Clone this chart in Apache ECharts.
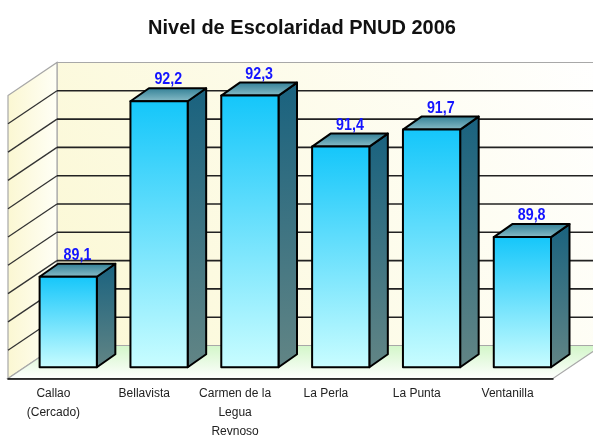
<!DOCTYPE html>
<html>
<head>
<meta charset="utf-8">
<script src="https://cdn.jsdelivr.net/npm/echarts@6/dist/echarts.min.js"></script>
<style>
  html, body { margin: 0; padding: 0; background: #fff; }
  #chart { width: 593px; height: 435px; }
</style>
</head>
<body>
<div id="chart"></div>
<script>
// data
const districts = ["Callao\n(Cercado)", "Bellavista", "Carmen de la\nLegua\nReynoso", "La Perla", "La Punta", "Ventanilla"];
const schoolingLevel = [89.1, 92.2, 92.3, 91.4, 91.7, 89.8];
const axisMin = 87.5;
const axisMax = 92.5;
const axisStep = 0.5;

// fake 3d: front plane -> back wall offset, in px
const DEPTH = [49, -33];

function formatValue(v) {
  return v.toFixed(1).replace(".", ",");
}

function grad(x, y, x2, y2, c0, c1) {
  return new echarts.graphic.LinearGradient(x, y, x2, y2, [
    { offset: 0, color: c0 },
    { offset: 1, color: c1 },
  ]);
}

function renderFrame(params, api) {
  const cs = params.coordSys;
  const L = cs.x;
  const R = cs.x + cs.width;
  const T = cs.y;
  const B = cs.y + cs.height;
  const dx = DEPTH[0];
  const dy = DEPTH[1];
  const children = [];

  children.push({
    type: "polygon",
    shape: { points: [[L + dx, T + dy], [R + dx, T + dy], [R + dx, B + dy], [L + dx, B + dy]] },
    style: { fill: grad(0, 1, 1, 0, "#fbf8d4", "#ffffff"), stroke: "#a8a8a8", lineWidth: 1.2 },
  });
  children.push({
    type: "polygon",
    shape: { points: [[L, T], [L + dx, T + dy], [L + dx, B + dy], [L, B]] },
    style: { fill: grad(0, 0, 1, 0, "#fbf7d2", "#fffff6"), stroke: "#a8a8a8", lineWidth: 1.2 },
  });
  children.push({
    type: "polygon",
    shape: { points: [[L, B], [R, B], [R + dx, B + dy], [L + dx, B + dy]] },
    style: { fill: grad(0, 0, 0, 1, "#d2f6c8", "#ffffff"), stroke: "#a8a8a8", lineWidth: 1.2 },
  });

  for (let v = axisMin + axisStep; v < axisMax - 1e-6; v += axisStep) {
    const y = api.coord([0, v])[1];
    children.push({
      type: "line",
      shape: { x1: L + dx, y1: y + dy, x2: R + dx, y2: y + dy },
      style: { stroke: "#222", lineWidth: 1.6 },
    });
    children.push({
      type: "line",
      shape: { x1: L, y1: y, x2: L + dx, y2: y + dy },
      style: { stroke: "#333", lineWidth: 1.3 },
    });
  }

  return { type: "group", children: children };
}

function renderBar(params, api) {
  const idx = api.value(0);
  const val = api.value(1);
  const top = api.coord([idx, val]);
  const base = api.coord([idx, axisMin]);
  const band = api.size([1, 0])[0];

  const w = band * 0.63;
  const cx = top[0] + band * 0.163;
  const x0 = cx - w / 2;
  const x1 = cx + w / 2;
  const yt = top[1] - 11.2;
  const yb = base[1] - 11.2;
  const sx = 18.5;
  const sy = -13;

  const edge = { stroke: "#000", lineWidth: 2, lineJoin: "round" };

  return {
    type: "group",
    children: [
      {
        type: "polygon",
        shape: { points: [[x1, yt], [x1 + sx, yt + sy], [x1 + sx, yb + sy], [x1, yb]] },
        style: Object.assign({ fill: grad(0, 0, 0, 1, "#19627f", "#628585") }, edge),
      },
      {
        type: "polygon",
        shape: { points: [[x0, yt], [x0 + sx, yt + sy], [x1 + sx, yt + sy], [x1, yt]] },
        style: Object.assign({ fill: grad(0, 0, 0, 1, "#2f7d94", "#8dc0ca") }, edge),
      },
      {
        type: "rect",
        shape: { x: x0, y: yt, width: w, height: yb - yt },
        style: Object.assign({ fill: grad(0, 0, 0, 1, "#14c6fa", "#c9fdff") }, edge),
      },
      {
        type: "text",
        x: cx + sx / 2,
        y: yt + sy,
        scaleX: 0.84,
        style: {
          text: formatValue(val),
          x: 0,
          y: 0,
          align: "center",
          verticalAlign: "bottom",
          fill: "#1414ff",
          font: 'bold 17px "Liberation Sans", Arial, sans-serif',
        },
      },
    ],
  };
}

const chart = echarts.init(document.getElementById("chart"), null, { renderer: "canvas" });

chart.setOption({
  backgroundColor: "#ffffff",
  animation: false,
  title: {
    text: "Nivel de Escolaridad PNUD 2006",
    left: 297,
    top: 13,
    textAlign: "center",
    textStyle: {
      fontFamily: "Liberation Sans",
      fontSize: 20,
      fontWeight: "bold",
      color: "#111",
    },
  },
  grid: {
    left: 8,
    right: 40,
    top: 95.5,
    bottom: 56.5,
    outerBoundsMode: "none",
  },
  xAxis: {
    type: "category",
    data: districts,
    axisLine: { lineStyle: { color: "#000", width: 1.5 } },
    axisTick: { length: 5, lineStyle: { color: "#000" } },
    axisLabel: {
      interval: 0,
      margin: 6,
      color: "#222",
      fontFamily: "Liberation Sans",
      fontSize: 12,
      lineHeight: 19,
    },
  },
  yAxis: {
    type: "value",
    min: axisMin,
    max: axisMax,
    interval: axisStep,
    axisLine: { show: false },
    axisTick: { show: false },
    axisLabel: { show: false },
    splitLine: { show: false },
  },
  series: [
    {
      type: "custom",
      name: "frame",
      z: -1,
      silent: true,
      data: [[0, axisMin]],
      renderItem: renderFrame,
    },
    {
      type: "custom",
      name: "Escolaridad",
      z: 2,
      data: schoolingLevel.map((v, i) => [i, v]),
      renderItem: renderBar,
    },
  ],
});
</script>
</body>
</html>
